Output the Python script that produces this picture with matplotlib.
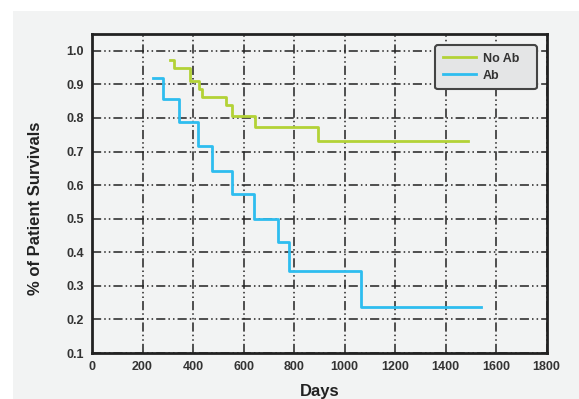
import matplotlib
matplotlib.use("Agg")
import matplotlib.pyplot as plt
from matplotlib.patches import Rectangle

# Data
noab_days = [309, 325, 389, 424, 435, 530, 554, 646, 895, 1490]
noab_surv = [0.973, 0.948, 0.909, 0.886, 0.861, 0.839, 0.807, 0.773, 0.732, 0.732]
ab_days = [243, 283, 343, 418, 477, 554, 641, 735, 780, 1067, 1540]
ab_surv = [0.920, 0.857, 0.788, 0.717, 0.642, 0.573, 0.500, 0.430, 0.344, 0.236, 0.236]
xticks = [0, 200, 400, 600, 800, 1000, 1200, 1400, 1600, 1800]
yticks = [0.1, 0.2, 0.3, 0.4, 0.5, 0.6, 0.7, 0.8, 0.9, 1.0]

plt.rcParams['font.family'] = ['Liberation Sans', 'DejaVu Sans']

fig = plt.figure(figsize=(5.79, 3.99), dpi=100, facecolor='white')
bg = Rectangle((13/579, 0), 1, 1 - 11/399, transform=fig.transFigure,
               facecolor='#f2f3f3', edgecolor='none', zorder=-10)
fig.patches.append(bg)

ax = fig.add_axes([92/579, 1 - 353/399, (546.5 - 92)/579, (353 - 34)/399])
ax.set_facecolor('#f2f3f3')

green = '#b3d236'
blue = '#2ebdef'
ax.step(noab_days, noab_surv, where='post', color=green, lw=2, label='No Ab   ', zorder=3)
ax.step(ab_days, ab_surv, where='post', color=blue, lw=2, label='Ab', zorder=3)

ax.set_xlim(0, 1800)
ax.set_ylim(0.1, 1.05)
ax.set_xticks(xticks)
ax.set_yticks(yticks)
ax.set_xticklabels([str(t) for t in xticks])
ax.set_yticklabels([f"{t:.1f}" for t in yticks])
ax.tick_params(length=0, pad=6, labelsize=9, labelcolor='#333333')
for lab in ax.get_xticklabels() + ax.get_yticklabels():
    lab.set_fontweight('bold')

ax.grid(True, color='#222222', lw=1.1, linestyle=(0, (6, 2, 1, 2, 1, 2)), zorder=1)
for s in ax.spines.values():
    s.set_linewidth(2)
    s.set_color('#222222')

ax.set_xlabel('Days', fontsize=12, fontweight='bold', color='#222222')
ax.xaxis.set_label_coords(0.5, -0.098)
ax.xaxis.label.set_va('top')
ax.set_ylabel('% of Patient Survivals', fontsize=12, fontweight='bold', color='#222222')
ax.yaxis.set_label_coords(-0.108, 0.453)

leg = ax.legend(loc='upper right', bbox_to_anchor=(0.979, 0.9655), fontsize=9,
                frameon=True, fancybox=True, handlelength=2.7, handletextpad=0.5,
                borderpad=0.6, labelspacing=0.42, borderaxespad=0)
leg.get_frame().set_facecolor('#e4e5e6')
leg.get_frame().set_edgecolor('#444444')
leg.get_frame().set_linewidth(1.5)
leg.get_frame().set_alpha(1)
for t in leg.get_texts():
    t.set_fontweight('bold')
    t.set_color('#333333')

fig.savefig('out.png', dpi=100)
